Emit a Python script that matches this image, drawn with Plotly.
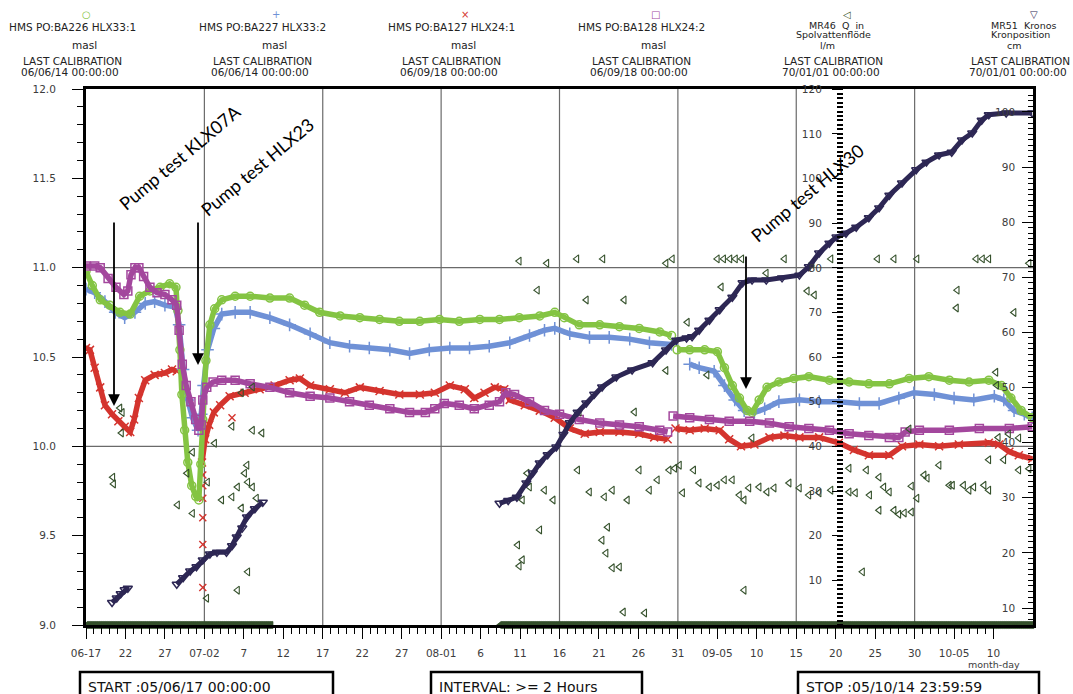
import pandas as pd
import plotly.graph_objects as go

# Logger record window
START = pd.Timestamp("2005-06-17 00:00:00")
STOP = pd.Timestamp("2005-10-15 00:00:00")

# (elapsed days since START, value); (None, None) marks a logger gap
hlx33_1 = [(0.0, 10.98), (0.8, 10.90), (1.8, 10.82), (3.0, 10.79), (4.3, 10.75), (5.6, 10.74),
           (6.8, 10.84), (8.1, 10.87), (9.4, 10.89), (10.6, 10.91), (11.4, 10.89), (11.65, 10.76),
           (11.9, 10.54), (12.15, 10.29), (12.5, 10.09), (12.9, 9.91), (13.4, 9.78), (13.9, 9.72),
           (14.3, 9.70), (14.55, 9.90), (14.8, 10.15), (15.2, 10.48), (15.7, 10.68), (16.3, 10.77),
           (17.2, 10.82), (18.9, 10.84), (20.8, 10.84), (23.3, 10.83), (25.8, 10.83), (27.7, 10.79),
           (29.6, 10.75), (32.2, 10.73), (34.7, 10.72), (37.2, 10.71), (39.7, 10.70), (42.3, 10.70),
           (44.8, 10.71), (47.3, 10.70), (49.9, 10.71), (52.4, 10.71), (54.9, 10.72), (57.5, 10.73),
           (59.4, 10.75), (60.6, 10.72), (62.5, 10.68), (65.1, 10.68), (67.6, 10.67), (70.1, 10.66),
           (72.7, 10.64), (74.2, 10.62), (None, None),
           (74.9, 10.54), (76.5, 10.54), (78.4, 10.54), (80.0, 10.53), (80.9, 10.44), (81.9, 10.34),
           (82.8, 10.27), (83.8, 10.20), (84.4, 10.19), (85.3, 10.26), (86.3, 10.33), (87.8, 10.36),
           (89.7, 10.38), (91.6, 10.39), (94.2, 10.37), (96.7, 10.36), (99.2, 10.35), (101.8, 10.35),
           (104.3, 10.38), (106.8, 10.39), (109.4, 10.37), (111.9, 10.36), (114.4, 10.37), (116.0, 10.34),
           (117.2, 10.27), (118.5, 10.20), (119.9, 10.16)]

hlx33_2 = [(0.0, 10.88), (1.1, 10.86), (2.4, 10.81), (3.7, 10.75), (4.9, 10.72), (6.2, 10.75),
           (7.5, 10.80), (8.7, 10.81), (10.0, 10.79), (11.3, 10.78), (11.8, 10.68), (12.3, 10.43),
           (12.9, 10.26), (13.5, 10.16), (14.2, 10.09), (14.6, 10.18), (14.9, 10.34), (15.4, 10.54),
           (16.2, 10.66), (17.2, 10.74), (18.9, 10.75), (20.8, 10.75), (23.3, 10.72), (25.8, 10.68),
           (28.4, 10.63), (30.9, 10.58), (33.4, 10.56), (35.9, 10.55), (38.5, 10.54), (41.0, 10.52),
           (43.5, 10.54), (46.1, 10.55), (48.6, 10.55), (51.1, 10.56), (53.7, 10.58), (56.2, 10.62),
           (58.1, 10.65), (59.4, 10.66), (61.3, 10.63), (63.8, 10.61), (66.3, 10.61), (68.9, 10.60),
           (71.4, 10.58), (74.2, 10.57), (None, None),
           (76.5, 10.46), (77.7, 10.44), (79.6, 10.42), (80.9, 10.34), (82.2, 10.26), (83.4, 10.20),
           (84.7, 10.19), (86.0, 10.21), (87.8, 10.25), (90.4, 10.26), (92.9, 10.25), (95.4, 10.25),
           (98.0, 10.24), (100.5, 10.24), (103.0, 10.27), (104.9, 10.30), (107.5, 10.29), (110.0, 10.27),
           (112.5, 10.26), (115.1, 10.28), (116.3, 10.26), (117.6, 10.20), (118.9, 10.18), (119.9, 10.16)]

hlx24_1 = [(0.0, 10.55), (0.5, 10.54), (1.1, 10.44), (1.8, 10.33), (2.4, 10.23), (3.3, 10.18),
           (4.1, 10.14), (4.9, 10.11), (5.6, 10.08), (6.1, 10.15), (6.7, 10.27), (7.5, 10.37),
           (8.7, 10.40), (10.0, 10.41), (10.9, 10.43), (11.5, 10.42), (None, None),
           (14.7, 9.91), (15.1, 10.04), (15.6, 10.12), (16.2, 10.19), (17.0, 10.23), (18.2, 10.28),
           (20.1, 10.30), (22.0, 10.32), (23.9, 10.34), (25.8, 10.37), (27.1, 10.38), (28.4, 10.34),
           (30.9, 10.32), (32.8, 10.30), (34.7, 10.33), (37.2, 10.31), (39.7, 10.29), (42.3, 10.29),
           (44.2, 10.30), (46.1, 10.34), (48.0, 10.32), (49.2, 10.27), (50.5, 10.30), (51.8, 10.33),
           (53.0, 10.32), (53.7, 10.26), (55.6, 10.23), (57.5, 10.20), (59.4, 10.16), (61.3, 10.10),
           (63.2, 10.07), (65.1, 10.08), (67.6, 10.08), (70.1, 10.07), (72.0, 10.05), (73.7, 10.04),
           (None, None),
           (74.7, 10.10), (76.5, 10.09), (78.4, 10.10), (80.3, 10.09), (81.5, 10.04), (83.0, 10.00),
           (84.7, 10.01), (86.6, 10.05), (88.5, 10.06), (90.4, 10.05), (92.9, 10.05), (95.4, 10.02),
           (97.3, 9.98), (99.2, 9.95), (101.8, 9.95), (103.4, 10.00), (105.6, 10.01), (108.1, 10.00),
           (110.6, 10.01), (114.4, 10.02), (115.7, 10.01), (117.0, 9.97), (118.2, 9.95), (119.9, 9.93)]

# isolated HLX24:1 readings during the HLX23 drawdown
hlx24_1_isolated = [(14.8, 9.84), (14.8, 9.78), (14.8, 9.71), (14.8, 9.60), (14.8, 9.45),
                    (14.8, 9.21), (18.5, 10.16)]

hlx24_2 = [(0.0, 11.01), (1.1, 11.01), (1.8, 11.00), (2.8, 10.94), (3.8, 10.89), (4.8, 10.85),
           (5.3, 10.87), (5.7, 10.96), (6.2, 11.00), (6.7, 11.00), (7.3, 10.95), (8.1, 10.89),
           (9.0, 10.86), (10.0, 10.85), (10.9, 10.82), (11.5, 10.79), (11.8, 10.65), (12.2, 10.46),
           (12.7, 10.34), (13.3, 10.25), (13.9, 10.15), (14.3, 10.09), (14.6, 10.12), (14.8, 10.26),
           (15.3, 10.33), (16.1, 10.36), (17.2, 10.37), (18.9, 10.37), (20.8, 10.35), (23.3, 10.33),
           (25.8, 10.30), (28.4, 10.28), (30.9, 10.27), (33.4, 10.25), (35.9, 10.23), (38.5, 10.21),
           (41.0, 10.19), (43.0, 10.19), (44.2, 10.21), (45.4, 10.24), (47.3, 10.23), (49.2, 10.21),
           (51.1, 10.23), (52.4, 10.25), (53.2, 10.30), (54.3, 10.29), (56.2, 10.25), (58.1, 10.20),
           (60.0, 10.18), (62.5, 10.15), (65.1, 10.13), (67.6, 10.12), (70.1, 10.11), (72.7, 10.09),
           (73.7, 10.08), (None, None),
           (74.4, 10.17), (76.5, 10.16), (79.0, 10.15), (81.5, 10.14), (84.1, 10.14), (86.6, 10.13),
           (89.1, 10.11), (91.6, 10.10), (94.2, 10.09), (96.7, 10.07), (99.2, 10.06), (101.8, 10.05),
           (103.0, 10.05), (103.8, 10.08), (105.6, 10.09), (109.4, 10.09), (113.2, 10.10), (117.0, 10.10),
           (119.9, 10.11)]

# MR46 flushing-water flow, l/m
flow_readings = [(3.4, 33.1), (3.5, 31.6), (4.3, 48.6), (4.6, 47.6), (4.5, 43.0),
                 (11.6, 26.9), (12.8, 34.0), (13.5, 25.0), (13.5, 38.7), (15.3, 6.0), (15.4, 32.0),
                 (16.3, 40.7), (17.2, 28.0), (18.5, 28.7), (18.5, 44.5), (19.2, 30.9), (19.2, 7.8),
                 (19.7, 26.2), (19.7, 52.0), (20.1, 34.0), (20.4, 35.8), (20.5, 32.0), (20.5, 11.9),
                 (21.1, 30.9), (21.1, 43.6), (21.1, 53.3), (21.6, 28.4), (22.3, 43.0),
                 (54.7, 17.9), (54.9, 13.2), (54.9, 81.5), (55.3, 14.6), (55.3, 28.0), (55.9, 34.0),
                 (56.2, 30.9), (57.2, 75.0), (57.5, 21.3), (58.1, 30.2), (58.4, 81.0), (59.2, 28.0),
                 (62.2, 82.0), (62.3, 34.7), (62.5, 47.7), (63.4, 72.8), (63.8, 29.8), (65.4, 19.0),
                 (65.5, 82.0), (65.7, 28.7), (65.9, 16.1), (66.1, 21.9), (66.7, 30.2), (66.7, 12.8),
                 (67.6, 13.0), (68.1, 2.9), (68.2, 72.8), (68.6, 28.0), (69.5, 47.7), (70.1, 34.7),
                 (70.8, 2.7), (71.4, 30.2), (72.4, 32.5), (73.5, 81.0), (73.5, 57.0), (73.9, 34.7),
                 (74.3, 82.0), (74.6, 35.1), (75.2, 35.8), (75.6, 29.6), (76.2, 67.8), (77.0, 34.7),
                 (77.7, 31.8), (78.7, 56.0), (79.0, 30.9), (80.0, 82.0), (80.0, 31.3), (80.5, 75.7),
                 (80.8, 82.0), (80.9, 32.5), (81.6, 82.0), (81.9, 32.5), (82.3, 82.0), (82.8, 29.1),
                 (83.1, 82.0), (83.4, 28.0), (83.4, 7.8), (84.0, 30.7), (84.4, 41.9), (85.3, 30.9),
                 (86.2, 78.8), (86.3, 29.8), (87.2, 30.7), (88.5, 82.0), (89.1, 31.8), (90.4, 30.7),
                 (91.4, 74.8), (91.6, 29.1), (92.0, 81.0), (92.3, 73.9), (92.9, 29.6), (94.4, 82.0),
                 (94.4, 30.2), (96.7, 29.8), (96.7, 35.1), (97.5, 29.6), (98.4, 11.9), (98.9, 34.7),
                 (99.3, 29.1), (100.3, 82.0), (100.5, 33.1), (100.5, 25.7), (101.1, 30.9), (101.8, 29.8),
                 (102.4, 82.0), (102.4, 25.7), (103.0, 24.8), (103.7, 25.1), (104.3, 43.9), (104.6, 25.3),
                 (104.6, 31.1), (105.3, 82.0), (105.3, 28.4), (106.2, 33.6), (106.6, 32.9), (108.1, 35.8),
                 (109.4, 31.3), (109.8, 31.3), (110.3, 71.0), (110.4, 75.0), (111.2, 31.3), (111.9, 30.2),
                 (112.5, 30.9), (112.8, 82.0), (113.6, 82.0), (113.8, 31.3), (114.4, 82.0), (114.4, 30.2),
                 (114.4, 37.0), (115.3, 56.6), (115.4, 53.7), (115.6, 42.0), (116.3, 37.0), (116.9, 42.8),
                 (117.6, 70.0), (118.2, 41.9), (118.2, 34.7), (119.5, 81.0), (119.5, 35.0)]

# periods with zero flow, logged every 2 hours
flow_zero_spans = [("2005-06-17 00:00", "2005-07-10 12:00"), ("2005-08-08 10:00", "2005-10-14 22:00")]
LOG_INTERVAL = "2h"

# MR51 Kronos crown position, cm
kronos = [(3.3, 11.0), (3.9, 11.8), (4.4, 12.6), (4.9, 13.3), (5.3, 13.6), (None, None),
          (11.5, 14.3), (12.3, 15.5), (13.2, 16.7), (14.0, 17.5), (14.8, 18.7), (15.7, 19.8),
          (16.6, 20.1), (17.8, 20.1), (18.5, 21.3), (19.1, 22.9), (19.8, 24.5), (20.4, 26.5),
          (21.4, 28.0), (22.4, 29.2), (None, None),
          (52.4, 29.0), (53.5, 29.5), (54.6, 30.1), (55.8, 32.7), (56.6, 34.5), (57.5, 36.3),
          (58.5, 37.8), (59.6, 39.2), (60.5, 41.5), (61.3, 43.6), (62.3, 45.5), (63.4, 47.2),
          (64.4, 48.8), (65.4, 50.1), (67.2, 51.9), (69.2, 53.2), (71.8, 54.5), (73.5, 56.8),
          (74.8, 58.6), (76.1, 59.0), (76.8, 59.2), (77.7, 60.4), (79.0, 62.2), (80.3, 64.1),
          (81.9, 66.4), (83.2, 69.0), (84.4, 69.5), (86.2, 69.5), (88.2, 69.9), (90.4, 70.4),
          (91.6, 71.9), (92.9, 74.4), (94.2, 76.2), (95.1, 77.3), (96.3, 78.0), (97.6, 79.1),
          (99.2, 80.8), (100.5, 82.6), (101.8, 84.9), (103.4, 87.1), (105.2, 89.5), (106.5, 90.9),
          (108.1, 92.2), (109.7, 92.7), (111.0, 94.9), (112.3, 96.2), (113.5, 98.5), (114.4, 99.5),
          (116.6, 99.8), (119.9, 99.8)]

# axis ticks
date_ticks = ["2005-06-17", "2005-06-22", "2005-06-27", "2005-07-02", "2005-07-07", "2005-07-12",
              "2005-07-17", "2005-07-22", "2005-07-27", "2005-08-01", "2005-08-06", "2005-08-11",
              "2005-08-16", "2005-08-21", "2005-08-26", "2005-08-31", "2005-09-05", "2005-09-10",
              "2005-09-15", "2005-09-20", "2005-09-25", "2005-09-30", "2005-10-05", "2005-10-10"]
date_tick_text = ["06-17", "22", "27", "07-02", "7", "12", "17", "22", "27", "08-01", "6", "11",
                  "16", "21", "26", "31", "09-05", "10", "15", "20", "25", "30", "10-05", "10"]
grid_dates = ["2005-07-02", "2005-07-17", "2005-08-01", "2005-08-16", "2005-08-31", "2005-09-15",
              "2005-09-30"]
level_ticks = [9.0, 9.5, 10.0, 10.5, 11.0, 11.5, 12.0]
grid_levels = [10.0, 11.0]
flow_ticks = [10, 20, 30, 40, 50, 60, 70, 80, 90, 100, 110, 120]
kronos_ticks = [10, 20, 30, 40, 50, 60, 70, 80, 90, 100]

# header block
header_titles = [["HMS PO:BA226 HLX33:1"], ["HMS PO:BA227 HLX33:2"], ["HMS PO:BA127 HLX24:1"],
                 ["HMS PO:BA128 HLX24:2"], ["MR46  Q  in", "Spolvattenflöde"],
                 ["MR51  Kronos", "Kronposition"]]
header_units = ["masl", "masl", "masl", "masl", "l/m", "cm"]
header_calibration = ["06/06/14 00:00:00", "06/06/14 00:00:00", "06/09/18 00:00:00",
                      "06/09/18 00:00:00", "70/01/01 00:00:00", "70/01/01 00:00:00"]
header_glyphs = ["○", "+", "×", "□", "◁", "▽"]

pump_tests = ["Pump test KLX07A", "Pump test HLX23", "Pump test HLX30"]

C_GREEN = "#84c443"
C_BLUE = "#6f91d6"
C_RED = "#d4342e"
C_MAGENTA = "#a3479d"
C_FLOW = "#35512c"
C_KRONOS = "#2d2754"
header_colors = [C_GREEN, C_BLUE, C_RED, C_MAGENTA, C_FLOW, C_KRONOS]

# plot-area geometry in pixels
W, H = 1073, 694
PL, PR, PT, PB = 86, 1033, 89, 625


def fx(px):
    return (px - PL) / (PR - PL)


def fy(py):
    return (PB - py) / (PB - PT)


def unzip(pairs):
    xs = [None if d is None else START + pd.Timedelta(days=d) for d, _ in pairs]
    ys = [v for _, v in pairs]
    return xs, ys


def level_trace(pairs, color, symbol, size, name):
    xs, ys = unzip(pairs)
    return go.Scatter(x=xs, y=ys, mode="lines+markers", name=name,
                      line=dict(color=color, width=5.5),
                      marker=dict(symbol=symbol, size=size, color=color,
                                  line=dict(color=color, width=1.5)),
                      hoverinfo="skip")


fig = go.Figure()

fig.add_trace(level_trace(hlx24_1, C_RED, "x-thin-open", 8, "HLX24:1"))
xs, ys = unzip(hlx24_1_isolated)
fig.add_trace(go.Scatter(x=xs, y=ys, mode="markers", name="HLX24:1",
                         marker=dict(symbol="x-thin-open", size=7, color=C_RED,
                                     line=dict(color=C_RED, width=1.4)), hoverinfo="skip"))
fig.add_trace(level_trace(hlx33_2, C_BLUE, "cross-thin-open", 9, "HLX33:2"))
fig.add_trace(level_trace(hlx33_1, C_GREEN, "circle-open", 8, "HLX33:1"))
fig.add_trace(level_trace(hlx24_2, C_MAGENTA, "square-open", 8, "HLX24:2"))

# flow readings on the inner right axis
xs, ys = unzip(flow_readings)
fig.add_trace(go.Scatter(x=xs, y=ys, mode="markers", yaxis="y2", name="MR46",
                         marker=dict(symbol="triangle-left-open", size=7, color=C_FLOW,
                                     line=dict(color=C_FLOW, width=1.1)), hoverinfo="skip"))
zero_times = []
for a, b in flow_zero_spans:
    zero_times.extend(pd.date_range(a, b, freq=LOG_INTERVAL))
fig.add_trace(go.Scatter(x=zero_times, y=[0] * len(zero_times), mode="markers", yaxis="y2",
                         name="MR46", cliponaxis=False,
                         marker=dict(symbol="triangle-left", size=6, color=C_FLOW,
                                     line=dict(color=C_FLOW, width=0.8)), hoverinfo="skip"))

# crown position on the outer right axis
xs, ys = unzip(kronos)
fig.add_trace(go.Scatter(x=xs, y=ys, mode="lines+markers", yaxis="y3", name="MR51",
                         line=dict(color=C_KRONOS, width=5),
                         marker=dict(symbol="triangle-down-open", size=8, color=C_KRONOS,
                                     line=dict(color=C_KRONOS, width=1.5)), hoverinfo="skip"))

TICK_FONT = dict(family="DejaVu Sans", size=10.5, color="#3c3c3c")

fig.update_layout(
    width=W, height=H,
    margin=dict(l=PL, r=W - PR, t=PT, b=H - PB, pad=0),
    paper_bgcolor="white", plot_bgcolor="white",
    showlegend=False,
    font=dict(family="DejaVu Sans", size=10.5, color="#222"),
    xaxis=dict(type="date", range=[START, STOP], tickmode="array", tickvals=date_ticks,
               ticktext=date_tick_text, ticks="outside", ticklen=11, tickwidth=1.2,
               tickcolor="black", tickfont=TICK_FONT, ticklabelstandoff=6,
               minor=dict(ticks="outside", ticklen=6, tickcolor="black", tickwidth=1,
                          dtick=86400000, tick0="2005-06-17", showgrid=False),
               showline=True, linecolor="black", linewidth=2.5, mirror=True,
               showgrid=False, zeroline=False),
    yaxis=dict(range=[9, 12], tickmode="array", tickvals=level_ticks,
               ticktext=[f"{v:.1f}" for v in level_ticks], ticks="outside", ticklen=11,
               tickwidth=1.2, tickcolor="black", tickfont=TICK_FONT, ticklabelstandoff=14,
               minor=dict(ticks="outside", ticklen=6, tickcolor="black", tickwidth=1,
                          dtick=0.1, tick0=9, showgrid=False),
               showline=True, linecolor="black", linewidth=3, mirror=True,
               showgrid=False, zeroline=False),
    yaxis2=dict(overlaying="y", anchor="free", position=fx(843), side="left",
                range=[0, 120.05], tickmode="array", tickvals=flow_ticks, ticks="outside",
                ticklen=11, tickwidth=1.2, tickcolor="black", tickfont=TICK_FONT,
                ticklabelstandoff=8,
                minor=dict(ticks="outside", ticklen=6, tickcolor="black", tickwidth=1.5,
                           dtick=1, tick0=0, showgrid=False),
                showline=False, showgrid=False, zeroline=False),
    yaxis3=dict(overlaying="y", anchor="x", side="right", range=[6.92, 104.17],
                tickmode="array", tickvals=kronos_ticks, ticks="inside", ticklen=11,
                tickwidth=1.2, tickcolor="black", ticklabelposition="inside",
                tickfont=TICK_FONT, ticklabelstandoff=6,
                minor=dict(ticks="inside", ticklen=5, tickcolor="black", tickwidth=1,
                           dtick=1, tick0=0, showgrid=False),
                showline=False, showgrid=False, zeroline=False),
)

shapes = []
for d in grid_dates:
    shapes.append(dict(type="line", xref="x", yref="paper", x0=d, x1=d, y0=0, y1=1,
                       line=dict(color="#6a6a6a", width=1.2), layer="below"))
for v in grid_levels:
    shapes.append(dict(type="line", xref="paper", yref="y", x0=0, x1=1, y0=v, y1=v,
                       line=dict(color="#6a6a6a", width=1.2), layer="below"))

# footer boxes
footer = [("START :05/06/17 00:00:00", 80, 333), ("INTERVAL: >= 2 Hours", 431, 642),
          ("STOP :05/10/14 23:59:59", 798, 1039)]
annotations = []
for text, left, right in footer:
    shapes.append(dict(type="rect", xref="paper", yref="paper", x0=fx(left), x1=fx(right),
                       y0=fy(705), y1=fy(672), line=dict(color="black", width=2.5)))
    annotations.append(dict(text=text, x=fx(left + 6), y=fy(687), xref="paper", yref="paper",
                            xanchor="left", yanchor="middle", showarrow=False,
                            font=dict(family="DejaVu Sans", size=14, color="#111")))

annotations.append(dict(text="month-day", x=fx(994), y=fy(664), xref="paper", yref="paper",
                        xanchor="center", yanchor="middle", showarrow=False,
                        font=dict(family="DejaVu Sans", size=9.5, color="#3c3c3c")))


def head(text, px, py, color="#222", size=10.5):
    return dict(text=text, x=fx(px), y=fy(py), xref="paper", yref="paper",
                xanchor="center", yanchor="middle", showarrow=False,
                font=dict(family="DejaVu Sans", size=size, color=color))


header_centers = [72, 262, 451, 641, 833, 1020]
for i, c in enumerate(header_centers):
    annotations.append(head(header_glyphs[i], c + 14, 14.5, header_colors[i], 10))
    lines = header_titles[i]
    if len(lines) == 1:
        annotations.append(head(lines[0], c, 27))
        annotations.append(head(header_units[i], c + 12, 45.5))
    else:
        annotations.append(head(lines[0], c + 3, 25, size=9.5))
        annotations.append(head(lines[1], c, 35, size=9.5))
        annotations.append(head(header_units[i], c - 6, 45, size=9.5))
    annotations.append(head("LAST CALIBRATION", c, 61))
    annotations.append(head(header_calibration[i], c - 2, 72))

# pump-test labels and arrows
label_pos = [(180, 157), (257, 167), (807, 193)]
arrow_pos = [(114, 221, 406), (198, 221, 365), (746, 255, 389)]
for text, (cx, cy), (ax_px, top, tip) in zip(pump_tests, label_pos, arrow_pos):
    annotations.append(dict(text=text, x=fx(cx), y=fy(cy), xref="paper", yref="paper",
                            xanchor="center", yanchor="middle", showarrow=False,
                            textangle=-40,
                            font=dict(family="Lato", size=18, color="black")))
    annotations.append(dict(text="", x=fx(ax_px), y=fy(tip), xref="paper", yref="paper",
                            showarrow=True, ax=0, ay=-(tip - top), axref="pixel", ayref="pixel",
                            arrowhead=2, arrowsize=1.3, arrowwidth=1.8, arrowcolor="black",
                            standoff=0))

fig.update_layout(shapes=shapes, annotations=annotations)

fig.write_html("out.html")
